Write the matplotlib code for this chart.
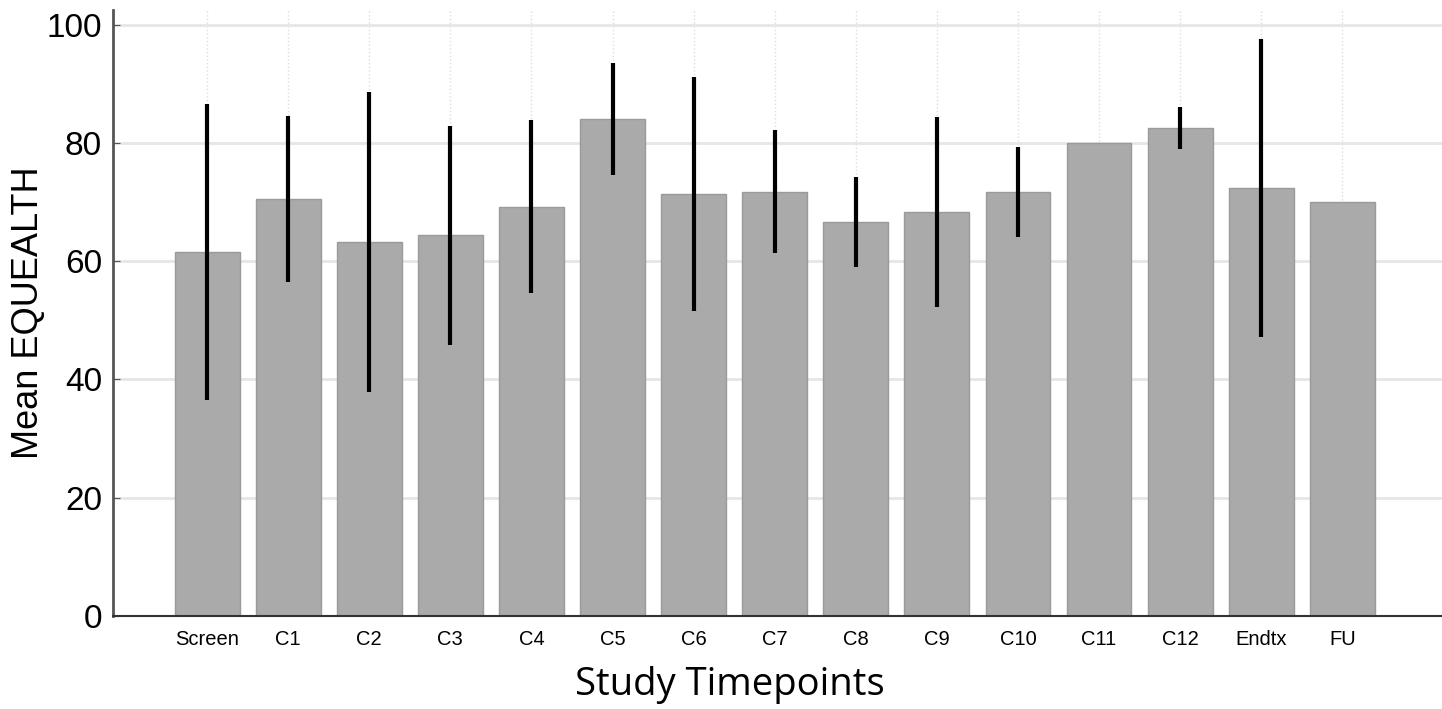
import numpy as np
import matplotlib
matplotlib.use('Agg')
import matplotlib.pyplot as plt

# values
timepoints = ['Screen', 'C1', 'C2', 'C3', 'C4', 'C5', 'C6', 'C7', 'C8', 'C9',
              'C10', 'C11', 'C12', 'Endtx', 'FU']
mean_equealth = [61.6, 70.5, 63.2, 64.4, 69.2, 84.0, 71.4, 71.7, 66.6, 68.3,
                 71.7, 80.0, 82.5, 72.4, 70.0]
sd_equealth = [25.0, 14.1, 25.4, 18.5, 14.6, 9.5, 19.8, 10.4, 7.6, 16.1,
               7.6, 0.0, 3.5, 25.2, 0.0]

tick_font = ['Liberation Sans', 'DejaVu Sans']

fig = plt.figure(figsize=(14.42, 7.09), dpi=100)
ax = fig.add_axes([0.0784, 0.1312, 0.9216, 0.855])

x = np.arange(len(timepoints))
ax.bar(x, mean_equealth, width=0.8, color='#aaaaaa', edgecolor='#9a9a9a',
       linewidth=1, zorder=2)
has_err = np.array(sd_equealth) > 0
ax.errorbar(x[has_err], np.array(mean_equealth)[has_err],
            yerr=np.array(sd_equealth)[has_err], fmt='none', ecolor='black',
            elinewidth=3, capsize=0, zorder=3)

ax.set_xlim(-1.16, 15.23)
ax.set_ylim(0, 102.5)
ax.set_yticks([0, 20, 40, 60, 80, 100])
ax.set_xticks(x)
ax.set_xticklabels(timepoints, fontsize=14.5, family=tick_font)
for lab in ax.get_yticklabels():
    lab.set_family(tick_font)
    lab.set_fontsize(24)

ax.yaxis.grid(True, color='#e6e6e6', linewidth=2, linestyle='-', zorder=0)
ax.xaxis.grid(True, color='#dddddd', linewidth=1, linestyle=':', zorder=0)
ax.set_axisbelow(True)

for side in ['top', 'right']:
    ax.spines[side].set_visible(False)
ax.spines['left'].set_color('#555555')
ax.spines['left'].set_linewidth(2)
ax.spines['bottom'].set_color('#333333')
ax.spines['bottom'].set_linewidth(1.5)
ax.tick_params(axis='both', direction='in', length=5, color='#555555')
ax.tick_params(axis='y', pad=8)
ax.tick_params(axis='x', pad=10)

ax.set_ylabel('Mean EQUEALTH', fontsize=26, family=['Liberation Sans', 'DejaVu Sans'])
ax.yaxis.label.set_va('center')
ax.yaxis.set_label_coords(-0.064, 0.5)
ax.set_xlabel('Study Timepoints', fontsize=27.5, family=['Open Sans', 'DejaVu Sans'])
ax.xaxis.label.set_va('center')
ax.xaxis.set_label_coords(0.464, -0.114)

fig.savefig('out.png', dpi=100)
